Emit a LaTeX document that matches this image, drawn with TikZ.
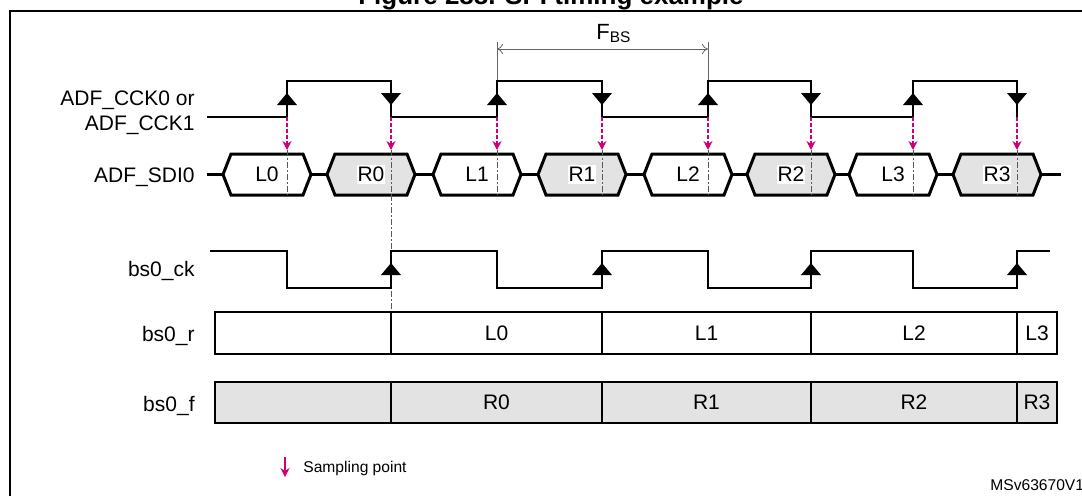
\documentclass[tikz,border=0pt]{standalone}
\usepackage{fontspec}
\setmainfont{Liberation Sans}
\usetikzlibrary{arrows.meta}
\definecolor{sampling}{RGB}{204,0,122}
\colorlet{shaded}{gray!22}

\begin{document}
\begin{tikzpicture}[
	x=0.5pt, y=-0.5pt,
	wave/.style = {line width=1pt, line join=miter},
	hexbus/.style = {line width=1.5pt, line join=miter},
	cellrow/.style = {line width=1pt},
	rowname/.style = {font=\fontsize{10.5}{12}\selectfont, anchor=base east, inner sep=0pt},
	slot/.style = {font=\fontsize{10.5}{12}\selectfont, fill=white, inner xsep=0.5pt, inner ysep=1pt},
	cell/.style = {font=\fontsize{10.5}{12}\selectfont, inner sep=0pt},
	guide/.style = {black!65, line width=0.5pt, dash pattern=on 3pt off 1pt on 1pt off 1pt},
	sample/.style = {sampling, line width=0.6pt, dash pattern=on 2pt off 1pt, -{Stealth[length=4.5pt, width=4.5pt]}},
	dim/.style = {black!60, line width=0.4pt},
	small/.style = {font=\fontsize{7.8}{9.5}\selectfont, inner sep=0pt},
]
	\useasboundingbox (0,0) rectangle (1082,495);
	\clip (0,0) rectangle (1082,495);

	\node [font=\bfseries\fontsize{13}{15}\selectfont, anchor=base] (title) at (551,4) {Figure 288. SPI timing example};
	\draw [line width=1pt] (10,510) |- (1100,11);

	% row names
	\node [rowname] (cck0) at (195,105) {ADF\_CCK0 or};
	\node [rowname] (cck1) at (195,130) {ADF\_CCK1};
	\node [rowname] (sdi) at (195,182) {ADF\_SDI0};
	\node [rowname] (bsck) at (195,276) {bs0\_ck};
	\node [rowname] (bsr) at (195,341) {bs0\_r};
	\node [rowname] (bsf) at (195,411) {bs0\_f};

	% bit stream period
	\coordinate (fbs west) at (497,49);
	\coordinate (fbs east) at (708,49);
	\draw [dim] (497,42) -- (497,81) (708,42) -- (708,81);
	\draw [dim, {To[length=3pt,width=5pt]}-{To[length=3pt,width=5pt]}] (fbs west) -- (fbs east);
	\node [font=\fontsize{11}{13}\selectfont, anchor=base west, inner sep=0pt] (fbs) at (596,39) {F\textsubscript{BS}};

	% ADF_CCK
	\draw [wave] (207,117) -- (287,117) |- (391,81) |- (497,117) |- (602,81) |- (708,117) |- (811,81) |- (913,117) |- (1017,81) -- (1017,117);
	\foreach \x in {287,497,708,913}
		\fill (\x-10,105) -- (\x+10,105) -- (\x,93) -- cycle;
	\foreach \x in {391,602,811,1017}
		\fill (\x-10,93) -- (\x+10,93) -- (\x,105) -- cycle;

	% ADF_SDI0
	\draw [hexbus] (207,174.5) -- (1061,174.5);
	\foreach \cx/\lbl/\tone in {267/L0/white, 371/R0/shaded, 477/L1/white, 582/R1/shaded,
				    688/L2/white, 791/R2/shaded, 893/L3/white, 997/R3/shaded}{%
		\filldraw [hexbus, fill=\tone] (\cx-44,174.5) -- (\cx-36,154) -- (\cx+36,154) -- (\cx+44,174.5) -- (\cx+36,195) -- (\cx-36,195) -- cycle;
		\node [slot] (sdi \lbl) at (\cx,174.5) {\lbl};
	}

	% sampling points
	\foreach \x in {287,391,497,602,708,811,913,1017}{%
		\draw [guide] (\x,150) -- (\x,195);
		\draw [sample] (\x,117) -- (\x,150);
	}
	\draw [guide] (391,195) -- (391,312);

	% bs0_ck
	\draw [wave] (210,251) -- (287,251) |- (391,288) |- (497,251) |- (602,288) |- (708,251) |- (811,288) |- (913,251) |- (1017,288) |- (1050,251);
	\foreach \x in {391,602,811,1017}
		\fill (\x-10,275) -- (\x+10,275) -- (\x,263) -- cycle;

	% bs0_r and bs0_f
	\draw [cellrow] (215,312) rectangle (1057,354);
	\filldraw [cellrow, fill=shaded] (215,382) rectangle (1057,423);
	\foreach \x in {391,602,811,1017}
		\draw [cellrow] (\x,312) -- (\x,354) (\x,382) -- (\x,423);
	\foreach \cx/\lbl/\rbl in {496.5/L0/R0, 706.5/L1/R1, 914/L2/R2, 1037/L3/R3}{%
		\node [cell] (r \lbl) at (\cx,333) {\lbl};
		\node [cell] (f \rbl) at (\cx,402.5) {\rbl};
	}

	% legend
	\draw [sample, solid] (285,457) -- (285,477);
	\node [small, anchor=base west] (legend) at (303,472) {Sampling point};
	\node [small, anchor=base west] (docid) at (990,490) {MSv63670V1};
\end{tikzpicture}
\end{document}
